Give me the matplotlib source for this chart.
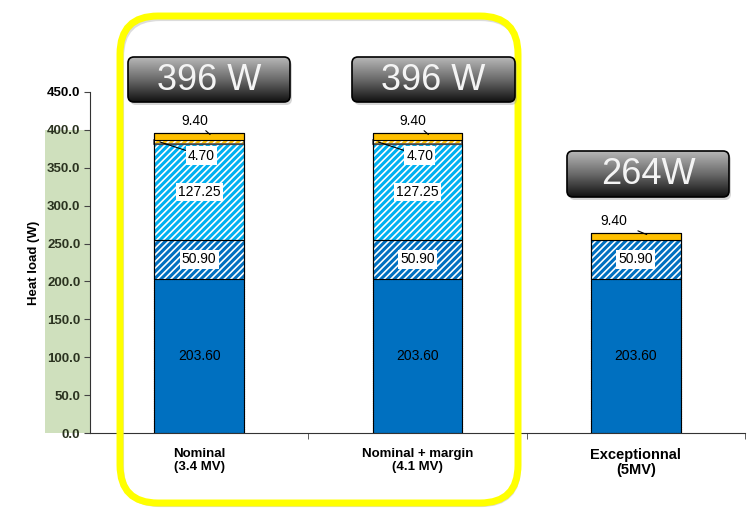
import numpy as np
import matplotlib.pyplot as plt
from matplotlib.colors import LinearSegmentedColormap
from matplotlib.patches import FancyBboxPatch, Rectangle

plt.rcParams["font.family"] = ["Liberation Sans", "DejaVu Sans"]
plt.rcParams["hatch.linewidth"] = 2.2

categories = ["Nominal\n(3.4 MV)", "Nominal + margin\n(4.1 MV)", "Exceptionnal\n(5MV)"]
base_load = [203.60, 203.60, 203.60]
dynamic_a = [50.90, 50.90, 50.90]
dynamic_b = [127.25, 127.25, 0.0]
small_part = [4.70, 4.70, 0.0]
top_part = [9.40, 9.40, 9.40]
totals_text = ["396 W", "396 W", "264W"]

BLUE = "#0070c0"
LIGHT_BLUE = "#00b0f0"
ORANGE = "#ffc000"

fig = plt.figure(figsize=(7.48, 5.19), dpi=100)
ax = fig.add_axes([90 / 748, 1 - 433 / 519, (745 - 90) / 748, (433 - 92) / 519])

x = np.arange(len(categories))
w = 0.41

# stacked segments
ax.bar(x, base_load, w, color=BLUE, edgecolor="#333333", linestyle=(0, (1, 1)), linewidth=0.8, zorder=3)
bottom = np.array(base_load)
ax.bar(x, dynamic_a, w, bottom=bottom, color="white", edgecolor=BLUE, hatch="/////", linewidth=0, zorder=3)
ax.bar(x, dynamic_a, w, bottom=bottom, fill=False, edgecolor="black", linewidth=0.8, zorder=4)
bottom = bottom + np.array(dynamic_a)
for i in range(len(x)):
    if dynamic_b[i] > 0:
        ax.bar(x[i], dynamic_b[i], w, bottom=bottom[i], color="white", edgecolor=LIGHT_BLUE,
               hatch="/////", linewidth=0, zorder=3)
        ax.bar(x[i], dynamic_b[i], w, bottom=bottom[i], fill=False, edgecolor="black", linewidth=0.8, zorder=4)
bottom = bottom + np.array(dynamic_b)
for i in range(len(x)):
    if small_part[i] > 0:
        ax.bar(x[i], small_part[i], w, bottom=bottom[i], color="white", edgecolor=ORANGE,
               hatch="/////", linewidth=0, zorder=3)
        ax.bar(x[i], small_part[i], w, bottom=bottom[i], fill=False, edgecolor="#555555", linewidth=1.2, zorder=4)
bottom = bottom + np.array(small_part)
ax.bar(x, top_part, w, bottom=bottom, color=ORANGE, edgecolor="black", linewidth=0.8, zorder=4)
ax.bar(x, np.array(bottom) + np.array(top_part), w, fill=False, edgecolor="black", linewidth=0.8, zorder=5)

# value labels
box = dict(boxstyle="square,pad=0.15", fc="white", ec="none")
fs = 10
for i in range(len(x)):
    ax.text(x[i], base_load[i] / 2, f"{base_load[i]:.2f}", ha="center", va="center", fontsize=fs, zorder=6)
    ya = base_load[i] + dynamic_a[i] / 2
    ax.text(x[i], ya, f"{dynamic_a[i]:.2f}", ha="center", va="center", fontsize=fs, bbox=box, zorder=6)
    if dynamic_b[i] > 0:
        yb = base_load[i] + dynamic_a[i] + dynamic_b[i] / 2
        ax.text(x[i], yb, f"{dynamic_b[i]:.2f}", ha="center", va="center", fontsize=fs, bbox=box, zorder=6)
    if small_part[i] > 0:
        ys = base_load[i] + dynamic_a[i] + dynamic_b[i] + small_part[i] / 2
        ax.annotate(f"{small_part[i]:.2f}", xy=(x[i] - 0.18, ys), xytext=(x[i] + 0.01, ys - 18),
                    ha="center", va="center", fontsize=fs, bbox=box, zorder=6,
                    arrowprops=dict(arrowstyle="-", color="black", lw=0.8, shrinkA=0, shrinkB=0))
    yt = bottom[i] + top_part[i]
    ax.annotate(f"{top_part[i]:.2f}", xy=(x[i] + 0.05, yt - 2), xytext=(x[i] - 0.02 - (0.08 if i == 2 else 0), yt + 16),
                ha="center", va="center", fontsize=fs, zorder=6,
                arrowprops=dict(arrowstyle="-", color="black", lw=0.8, shrinkA=6, shrinkB=0))

ax.set_xlim(-0.5, 2.5)
ax.set_ylim(0, 450)
ax.set_yticks(np.arange(0, 451, 50))
ax.set_yticklabels([f"{v:.1f}" for v in np.arange(0, 451, 50)], fontsize=9.5, fontweight="bold")
for lab in ax.get_yticklabels()[:-1]:
    lab.set_color("#2b3320")
ax.set_xticks(x)
ax.set_xticklabels(categories, fontsize=9.5, fontweight="bold", linespacing=1.05)
ax.get_xticklabels()[2].set_fontsize(10.5)
ax.set_xticks([0.5, 1.5, 2.5], minor=True)
ax.tick_params(axis="x", which="major", length=0, pad=11)
ax.tick_params(axis="x", which="minor", length=4, direction="out", color="#444444")
ax.tick_params(axis="y", length=4, direction="out", color="#444444", pad=3)
ax.set_ylabel("Heat load (W)", fontsize=9.5, fontweight="bold", labelpad=5)
for s in ["top", "right"]:
    ax.spines[s].set_visible(False)
for s in ["left", "bottom"]:
    ax.spines[s].set_color("#333333")
    ax.spines[s].set_linewidth(0.8)

# overlay in pixel coordinates for the decorations
ov = fig.add_axes([0, 0, 1, 1], facecolor="none")
ov.axis("off")

# shaded band behind the tick labels
fig.patches.append(Rectangle((45 / 748, 1 - 433 / 519), 45 / 748, (433 - 130) / 519,
                             transform=fig.transFigure, fc="#cfe0bd", ec="none", zorder=-10))

# yellow highlight frame
shadow = FancyBboxPatch((122, 19), 397, 486, boxstyle="round,pad=0,rounding_size=38",
                        fc="none", ec="#bbbbbb", lw=3, alpha=0.5, zorder=9)
frame = FancyBboxPatch((120, 16), 398, 487, boxstyle="round,pad=0,rounding_size=38",
                       fc="none", ec="#ffff00", lw=5, zorder=10)
ov.add_patch(shadow)
ov.add_patch(frame)

# total badges with a grey-to-black gradient
grad = np.linspace(0, 1, 256).reshape(-1, 1)
badge_cmap = LinearSegmentedColormap.from_list("badge", ["#b8b8b8", "#6a6a6a", "#111111"])
badges = [(128, 57, 162, 45), (352, 57, 163, 45), (567, 151, 162, 46)]
for (bx, by, bw, bh), label in zip(badges, totals_text):
    sh = FancyBboxPatch((bx + 2, by + 3), bw, bh, boxstyle="round,pad=0,rounding_size=6",
                        fc="#999999", ec="none", alpha=0.4, zorder=11)
    ov.add_patch(sh)
    patch = FancyBboxPatch((bx, by), bw, bh, boxstyle="round,pad=0,rounding_size=6",
                           fc="none", ec="black", lw=1.2, zorder=13)
    ov.add_patch(patch)
    im = ov.imshow(grad, cmap=badge_cmap, extent=(bx, bx + bw, by + bh, by), aspect="auto", zorder=12)
    im.set_clip_path(patch)
    ov.text(bx + bw / 2, by + bh / 2 + 1, label, ha="center", va="center", fontsize=26,
            color="#f4f4f4", zorder=14)
ov.set_xlim(0, 748)
ov.set_ylim(519, 0)

fig.savefig("out.png", dpi=100)
